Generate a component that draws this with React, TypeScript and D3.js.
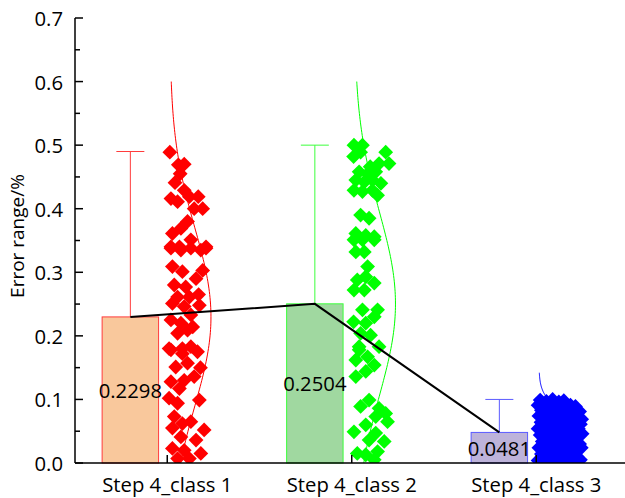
import React from "react";
import * as d3 from "d3";

// Categories and summary values
const categories = ["Step 4_class 1", "Step 4_class 2", "Step 4_class 3"];
const meanValues = [0.2298, 0.2504, 0.0481];
const errorTops = [0.49, 0.5, 0.1];
const spreadSd = [0.14, 0.145, 0.03];
const curveTops = [0.6, 0.6, 0.142];
const yTickValues = [0, 0.1, 0.2, 0.3, 0.4, 0.5, 0.6, 0.7];

// Raw samples: [value, jitter position 0..1]
const class1Points: [number, number][] = [
  [0.489, 0.02], [0.469, 0.25], [0.47, 0.41], [0.441, 0.16], [0.429, 0.41],
  [0.416, 0.05], [0.411, 0.23], [0.419, 0.55], [0.419, 0.79], [0.4, 0.68],
  [0.4, 0.91], [0.361, 0.09], [0.369, 0.32], [0.351, 0.59], [0.34, 1.0],
  [0.34, 0.05], [0.34, 0.28], [0.338, 0.05], [0.335, 0.32], [0.338, 0.59],
  [0.335, 0.86], [0.338, 1.0], [0.309, 0.09], [0.301, 0.36], [0.303, 0.91],
  [0.29, 0.73], [0.28, 0.14], [0.277, 0.45], [0.261, 0.23], [0.261, 0.55],
  [0.251, 0.09], [0.246, 0.41], [0.248, 0.82], [0.233, 0.59], [0.225, 0.05],
  [0.22, 0.32], [0.209, 0.5], [0.204, 0.23], [0.214, 0.64], [0.18, 0.0],
  [0.18, 0.36], [0.183, 0.59], [0.175, 0.77], [0.178, 0.05], [0.172, 0.36],
  [0.151, 0.18], [0.157, 0.5], [0.136, 0.68], [0.13, 0.41], [0.128, 0.05],
  [0.117, 0.28], [0.102, 0.0], [0.094, 0.23], [0.099, 0.82], [0.073, 0.14],
  [0.055, 0.09], [0.062, 0.36], [0.065, 0.59], [0.052, 0.95], [0.041, 0.32],
  [0.036, 0.73], [0.023, 0.09], [0.02, 0.41], [0.015, 0.86], [0.007, 0.23],
  [0.007, 0.55], [0.455, 0.3], [0.38, 0.5], [0.265, 0.8], [0.15, 0.85],
];

const class2Points: [number, number][] = [
  [0.5, 0.01], [0.5, 0.24], [0.482, 0.0], [0.489, 0.19], [0.489, 0.87],
  [0.471, 0.96], [0.471, 0.69], [0.458, 0.15], [0.455, 0.38], [0.458, 0.6],
  [0.445, 0.06], [0.442, 0.29], [0.445, 0.51], [0.44, 0.74], [0.429, 0.01],
  [0.427, 0.24], [0.429, 0.51], [0.421, 0.65], [0.39, 0.19], [0.385, 0.42],
  [0.361, 0.06], [0.358, 0.33], [0.356, 0.56], [0.351, 0.01], [0.351, 0.24],
  [0.351, 0.56], [0.332, 0.06], [0.332, 0.29], [0.309, 0.38], [0.288, 0.1],
  [0.293, 0.33], [0.283, 0.56], [0.272, 0.01], [0.272, 0.29], [0.241, 0.24],
  [0.241, 0.65], [0.222, 0.0], [0.22, 0.33], [0.23, 0.56], [0.204, 0.19],
  [0.201, 0.46], [0.183, 0.15], [0.183, 0.69], [0.178, 0.15], [0.162, 0.06],
  [0.167, 0.38], [0.154, 0.56], [0.136, 0.06], [0.144, 0.33], [0.089, 0.19],
  [0.099, 0.42], [0.086, 0.69], [0.078, 0.87], [0.073, 0.6], [0.06, 0.33],
  [0.049, 0.01], [0.047, 0.6], [0.034, 0.83], [0.036, 0.42], [0.015, 0.1],
  [0.013, 0.33], [0.018, 0.65], [0.005, 0.56], [0.065, 0.92], [0.466, 0.45],
];

const class3Points: [number, number][] = [
  [0.099, 0.05], [0.097, 0.2], [0.1, 0.35], [0.096, 0.5], [0.098, 0.62],
  [0.091, 0.0], [0.089, 0.15], [0.092, 0.3], [0.088, 0.45], [0.09, 0.6], [0.091, 0.78], [0.089, 0.9],
  [0.083, 0.08], [0.081, 0.22], [0.084, 0.38], [0.08, 0.55], [0.082, 0.7], [0.079, 0.85], [0.081, 1.0],
  [0.074, 0.02], [0.072, 0.16], [0.071, 0.3], [0.075, 0.47], [0.073, 0.63], [0.07, 0.8], [0.072, 0.95], [0.069, 1.05],
  [0.064, 0.07], [0.062, 0.24], [0.061, 0.4], [0.065, 0.55], [0.06, 0.72], [0.063, 0.88], [0.061, 1.02],
  [0.054, 0.0], [0.052, 0.14], [0.055, 0.32], [0.05, 0.5], [0.053, 0.66], [0.051, 0.83], [0.054, 0.97],
  [0.044, 0.05], [0.042, 0.2], [0.045, 0.36], [0.041, 0.6], [0.043, 0.75], [0.04, 0.9], [0.046, 1.06],
  [0.034, 0.1], [0.032, 0.27], [0.035, 0.45], [0.031, 0.62], [0.033, 0.79], [0.03, 1.0],
  [0.024, 0.02], [0.022, 0.18], [0.025, 0.35], [0.021, 0.52], [0.023, 0.7], [0.02, 0.86], [0.024, 1.04],
  [0.014, 0.08], [0.012, 0.25], [0.015, 0.42], [0.011, 0.58], [0.013, 0.76], [0.01, 0.94],
  [0.004, 0.0], [0.003, 0.16], [0.005, 0.33], [0.002, 0.5], [0.006, 0.68], [0.003, 0.85], [0.005, 1.02],
];

const samples = [class1Points, class2Points, class3Points];

const barFill = ["#F9C89C", "#A0D8A0", "#BDB3DA"];
const barStroke = ["#FF3C3C", "#3CFF3C", "#5A5AFF"];
const pointColor = ["#FF0000", "#00FF00", "#0000FF"];

const W = 625;
const H = 498;
const left = 75;
const top = 18;
const bottom = 463;
const font = "'Open Sans', sans-serif";
const fs = 20.3;

export default function App() {
  const x = d3.scaleLinear().domain([0.5, 3.5]).range([left, 628.5]);
  const y = d3.scaleLinear().domain([0, 0.7]).range([bottom, top]);

  const barHalf = 0.153;
  const barShift = -0.2;
  const jitterStart = 0.01;
  const jitterSpan = [0.2, 0.2, 0.225];
  const curveShift = 0.015;
  const curveAmp = 0.222;

  const diamond = "M0,-7.4L7.4,0L0,7.4L-7.4,0Z";

  const minorTicks = d3.range(0.05, 0.7, 0.1);

  const meanLine = d3
    .line<number>()
    .x((_, i) => x(i + 1 + barShift))
    .y((d) => y(d));

  const curvePath = (i: number) => {
    const m = meanValues[i];
    const s = spreadSd[i];
    const vals = d3.range(0, curveTops[i] + 1e-9, curveTops[i] / 120);
    const base = i + 1 + curveShift;
    return d3
      .line<number>()
      .x((v) => x(base + curveAmp * Math.exp(-((v - m) ** 2) / (2 * s * s))))
      .y((v) => y(v))
      .curve(d3.curveBasis)(vals);
  };

  return (
    <svg
      width={W}
      height={H}
      style={{ position: "fixed", left: 0, top: 0, background: "#fff" }}
      fontFamily={font}
    >
      <defs>
        <clipPath id="plotArea">
          <rect x={left} y={top - 10} width={W - left} height={bottom - top + 10} />
        </clipPath>
      </defs>
      <rect width={W} height={H} fill="#fff" />

      {/* bars with upper error bars */}
      {categories.map((c, i) => {
        const cx = x(i + 1 + barShift);
        const x0 = x(i + 1 + barShift - barHalf);
        const x1 = x(i + 1 + barShift + barHalf);
        return (
          <g key={c}>
            <rect
              x={x0}
              y={y(meanValues[i])}
              width={x1 - x0}
              height={y(0) - y(meanValues[i])}
              fill={barFill[i]}
              stroke={barStroke[i]}
              strokeWidth={1}
            />
            <line x1={cx} x2={cx} y1={y(meanValues[i])} y2={y(errorTops[i])} stroke={barStroke[i]} strokeWidth={1} />
            <line x1={cx - 14} x2={cx + 14} y1={y(errorTops[i])} y2={y(errorTops[i])} stroke={barStroke[i]} strokeWidth={1} />
          </g>
        );
      })}

      {/* jittered samples */}
      <g clipPath="url(#plotArea)">
        {samples.map((pts, i) =>
          pts.map(([v, j], k) => (
            <path
              key={`${i}-${k}`}
              d={diamond}
              transform={`translate(${x(i + 1 + jitterStart + j * jitterSpan[i])},${y(v)})`}
              fill={pointColor[i]}
            />
          ))
        )}
        {/* normal distribution curves */}
        {categories.map((c, i) => (
          <path key={c} d={curvePath(i) || ""} fill="none" stroke={pointColor[i]} strokeWidth={1} />
        ))}
      </g>

      {/* line through the means */}
      <path d={meanLine(meanValues) || ""} fill="none" stroke="#000" strokeWidth={2} />

      {/* value labels */}
      {categories.map((c, i) => (
        <text
          key={c}
          x={x(i + 1 + barShift)}
          y={(y(meanValues[i]) + y(0)) / 2}
          textAnchor="middle"
          dominantBaseline="central"
          fontSize={fs}
          fill="#000"
        >
          {meanValues[i].toFixed(4)}
        </text>
      ))}

      {/* y axis */}
      <line x1={left} x2={left} y1={top} y2={bottom} stroke="#000" strokeWidth={1.5} />
      {yTickValues.map((t) => (
        <g key={t}>
          <line x1={left} x2={left + 8} y1={y(t)} y2={y(t)} stroke="#000" strokeWidth={1.5} />
          <text x={left - 12} y={y(t)} textAnchor="end" dominantBaseline="central" fontSize={fs} fill="#000">
            {d3.format(".1f")(t)}
          </text>
        </g>
      ))}
      {minorTicks.map((t) => (
        <line key={t} x1={left} x2={left + 5} y1={y(t)} y2={y(t)} stroke="#000" strokeWidth={1.5} />
      ))}
      <text
        transform={`translate(17,236) rotate(-90)`}
        textAnchor="middle"
        dominantBaseline="central"
        fontSize={19}
        fill="#000"
      >
        Error range/%
      </text>

      {/* x axis */}
      <line x1={left} x2={W} y1={bottom} y2={bottom} stroke="#000" strokeWidth={1.5} />
      {categories.map((c, i) => (
        <g key={c}>
          <line x1={x(i + 1)} x2={x(i + 1)} y1={bottom} y2={bottom - 8} stroke="#000" strokeWidth={1.5} />
          <text x={x(i + 1)} y={484} textAnchor="middle" dominantBaseline="central" fontSize={fs} fill="#000">
            {c}
          </text>
        </g>
      ))}
    </svg>
  );
}
